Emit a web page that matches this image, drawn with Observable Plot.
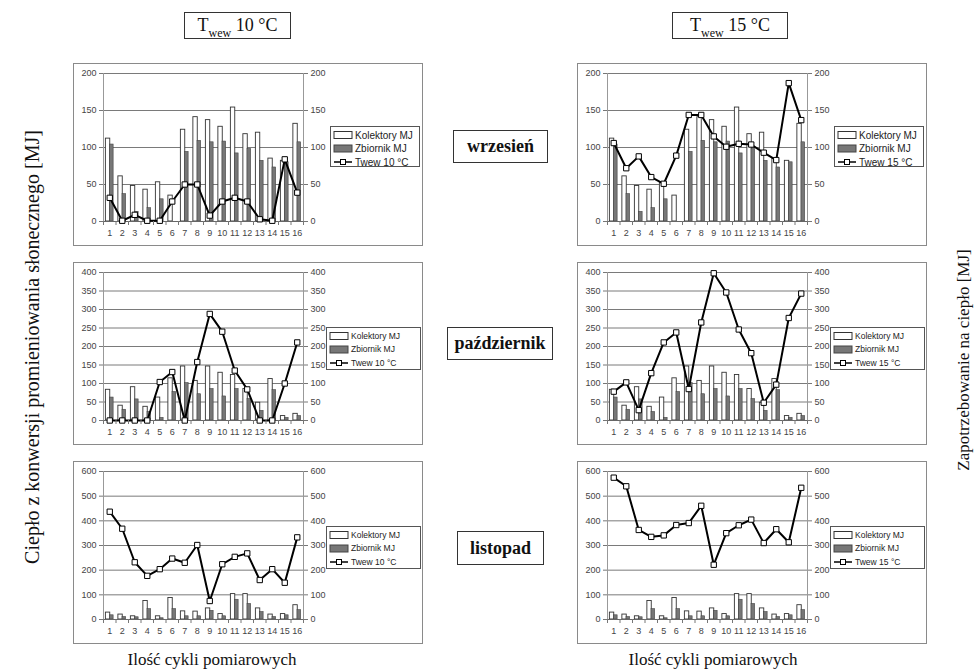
<!DOCTYPE html>
<html><head><meta charset="utf-8">
<script src="https://cdn.jsdelivr.net/npm/d3@7"></script>
<script src="https://cdn.jsdelivr.net/npm/@observablehq/plot@0.6"></script>
<style>
body{margin:0;background:#fff;}
#root{position:relative;width:977px;height:672px;overflow:hidden;background:#fff;font-family:"Liberation Serif","Times New Roman",serif;color:#111;}
.panel{position:absolute;border:1px solid #8a8a8a;box-sizing:border-box;width:350px;height:183px;background:#fff;}
.panel svg.plot{position:absolute;left:0;top:0;}
.legend{position:absolute;border:1px solid #555;background:#fff;box-sizing:border-box;}
.box{position:absolute;border:1px solid #333;box-sizing:border-box;display:flex;align-items:center;justify-content:center;background:#fff;white-space:nowrap;}
.hdr{font-size:18px;}
.hdr .sb{font-size:12px;position:relative;top:6px;}
.month{font-size:18px;font-weight:bold;}
.vlab{position:absolute;white-space:nowrap;transform:translate(-50%,-50%) rotate(-90deg);}
.xlab{position:absolute;font-size:17px;white-space:nowrap;transform:translate(-50%,-50%);}
</style></head>
<body><div id="root"></div>
<script>
// ---- data ----
const cycles = [1,2,3,4,5,6,7,8,9,10,11,12,13,14,15,16];
const months = ["wrzesień","październik","listopad"];
const seriesNames = ["Kolektory MJ","Zbiornik MJ"];
const lineNames = ["Twew 10 °C","Twew 15 °C"];

const kolektorySep = [112,61,48,43,53,35,124,141,137,128,154,118,120,85,82,132];
const zbiornikSep  = [104,37,13,18,30,0,94,109,107,108,92,98,82,73,80,107];
const twew10Sep    = [32,1,9,1,1,27,50,50,8,27,32,27,3,1,84,39];
const twew15Sep    = [106,72,88,60,51,89,144,144,115,101,105,104,93,83,187,137];

const kolektoryOct = [83,40,90,37,62,114,146,107,146,129,123,85,48,112,12,18];
const zbiornikOct  = [62,29,57,23,7,77,101,71,85,65,85,58,26,82,7,12];
const twew10Oct    = [0,0,0,0,104,131,0,158,288,240,135,84,0,0,100,211];
const twew15Oct    = [78,103,28,128,211,238,85,265,398,346,246,182,48,97,277,343];

const kolektoryNov = [28,20,13,75,13,87,33,32,45,22,103,103,45,20,22,58];
const zbiornikNov  = [17,10,9,42,5,42,13,13,35,13,80,63,30,10,17,38];
const twew10Nov    = [437,368,232,177,204,247,230,302,75,224,254,268,160,204,149,333];
const twew15Nov    = [575,540,363,335,341,383,391,461,222,350,382,405,310,366,313,534];

const yMaxes = [200,400,600];
const ySteps = [50,50,100];

const kolektory = [kolektorySep,kolektoryOct,kolektoryNov];
const zbiornik = [zbiornikSep,zbiornikOct,zbiornikNov];
const twew = [[twew10Sep,twew15Sep],[twew10Oct,twew15Oct],[twew10Nov,twew15Nov]];

// ---- layout ----
const root = document.getElementById("root");
const colX = [73, 577];
const rowY = [63, 262, 461];

function makePanel(kol, zb, tw, ymax, step) {
  const rows = cycles.map((c,i)=>({c, kol:kol[i], zb:zb[i], tw:tw[i]}));
  const ticks = d3.range(0, ymax + 1, step);
  const bounds = cycles.map(c=>c-0.5).concat([16.5]);
  const tickStyle = {fontSize: 9, fill:"#444"};
  return Plot.plot({
    width: 348, height: 181,
    marginLeft: 29, marginRight: 119, marginTop: 9, marginBottom: 24,
    x: {type:"linear", domain:[0.5,16.5], axis:null},
    y: {domain:[0,ymax], axis:null},
    style: {fontFamily:"'Liberation Sans', Arial, sans-serif", fontSize:"9px", color:"#444", background:"transparent"},
    marks: [
      Plot.ruleY(ticks, {stroke:"#7a7a7a", strokeWidth:1}),
      Plot.ruleX([0.5], {stroke:"#999"}),
      Plot.ruleX([16.5], {stroke:"#999"}),
      Plot.rect(rows, {x1: d=>d.c-0.31, x2: d=>d.c+0.04, y1: d=>0, y2:"kol", fill:"#fff", stroke:"#333", strokeWidth:0.9}),
      Plot.rect(rows, {x1: d=>d.c+0.02, x2: d=>d.c+0.31, y1: d=>0, y2:"zb", fill:"#777", stroke:"#444", strokeWidth:0.6}),
      Plot.ruleY([0], {stroke:"#666"}),
      Plot.line(rows, {x:"c", y:"tw", stroke:"#000", strokeWidth:2}),
      Plot.dot(rows, {x:"c", y:"tw", symbol:"square", r:3, fill:"#fff", stroke:"#000", strokeWidth:1}),
      Plot.axisY(ticks, {anchor:"left", label:null, tickSize:4, tickPadding:3, stroke:"#777", ...tickStyle}),
      Plot.axisY(ticks, {anchor:"right", label:null, tickSize:4, tickPadding:3, stroke:"#777", ...tickStyle}),
      Plot.axisX(bounds, {anchor:"bottom", label:null, tickSize:4, stroke:"#777", tickFormat:()=>""}),
      Plot.axisX(cycles, {anchor:"bottom", label:null, tickSize:0, tickPadding:8, ...tickStyle})
    ]
  });
}

function makeLegend(lineName, small) {
  const w = small ? 95 : 90, h = small ? 43 : 41;
  const rowH = 13.5;
  const fs = small ? 8.5 : 10;
  const svg = d3.create("svg").attr("width", w-2).attr("height", h-2);
  const names = [seriesNames[0], seriesNames[1], lineName];
  names.forEach((n,i)=>{
    const cy = 8 + i*rowH;
    if (i===0) svg.append("rect").attr("x",3).attr("y",cy-3.5).attr("width",18).attr("height",7).attr("fill","#fff").attr("stroke","#333");
    if (i===1) svg.append("rect").attr("x",3).attr("y",cy-3.5).attr("width",18).attr("height",7).attr("fill","#777").attr("stroke","#444");
    if (i===2) {
      svg.append("line").attr("x1",3).attr("x2",21).attr("y1",cy).attr("y2",cy).attr("stroke","#000").attr("stroke-width",1.5);
      svg.append("rect").attr("x",9.5).attr("y",cy-2.5).attr("width",5).attr("height",5).attr("fill","#fff").attr("stroke","#000");
    }
    svg.append("text").attr("x",24).attr("y",cy).attr("dy","0.35em")
      .attr("font-family","'Liberation Sans', Arial, sans-serif").attr("font-size",fs).attr("fill","#222").text(n);
  });
  const div = document.createElement("div");
  div.className = "legend";
  div.style.width = w + "px"; div.style.height = h + "px";
  div.appendChild(svg.node());
  return div;
}

for (let r = 0; r < 3; r++) {
  for (let col = 0; col < 2; col++) {
    const p = document.createElement("div");
    p.className = "panel";
    p.style.left = colX[col] + "px";
    p.style.top = rowY[r] + "px";
    const chart = makePanel(kolektory[r], zbiornik[r], twew[r][col], yMaxes[r], ySteps[r]);
    chart.classList.add("plot");
    p.appendChild(chart);
    const lg = makeLegend(lineNames[col], r > 0);
    lg.style.left = (r > 0 ? 252 : 256) + "px";
    lg.style.top = (r > 0 ? 64 : 62) + "px";
    p.appendChild(lg);
    root.appendChild(p);
  }
}

// headers
const hdrs = [["10", 184, 107], ["15", 672, 116]];
hdrs.forEach(([t, x, w]) => {
  const b = document.createElement("div");
  b.className = "box hdr";
  b.style.left = x + "px"; b.style.top = "12px"; b.style.width = w + "px"; b.style.height = "27px";
  b.innerHTML = "<span>T<span class='sb'>wew</span>&nbsp;" + t + " °C</span>";
  root.appendChild(b);
});

// month labels
const monthBoxes = [[453,130,95,33],[447,327,106,33],[457,531,87,34]];
months.forEach((m,i)=>{
  const b = document.createElement("div");
  b.className = "box month";
  const [x,y,w,h] = monthBoxes[i];
  b.style.left = x+"px"; b.style.top = y+"px"; b.style.width = w+"px"; b.style.height = h+"px";
  b.textContent = m;
  root.appendChild(b);
});

// axis titles
function addText(cls, txt, x, y, fs) {
  const d = document.createElement("div");
  d.className = cls; d.textContent = txt;
  d.style.left = x + "px"; d.style.top = y + "px";
  if (fs) d.style.fontSize = fs + "px";
  root.appendChild(d);
}
addText("vlab", "Ciepło z konwersji promieniowania słonecznego [MJ]", 32, 347, 20);
addText("vlab", "Zapotrzebowanie na ciepło [MJ]", 964, 360, 17);
addText("xlab", "Ilość cykli pomiarowych", 212, 660);
addText("xlab", "Ilość cykli pomiarowych", 713, 660);
</script>
</body></html>
